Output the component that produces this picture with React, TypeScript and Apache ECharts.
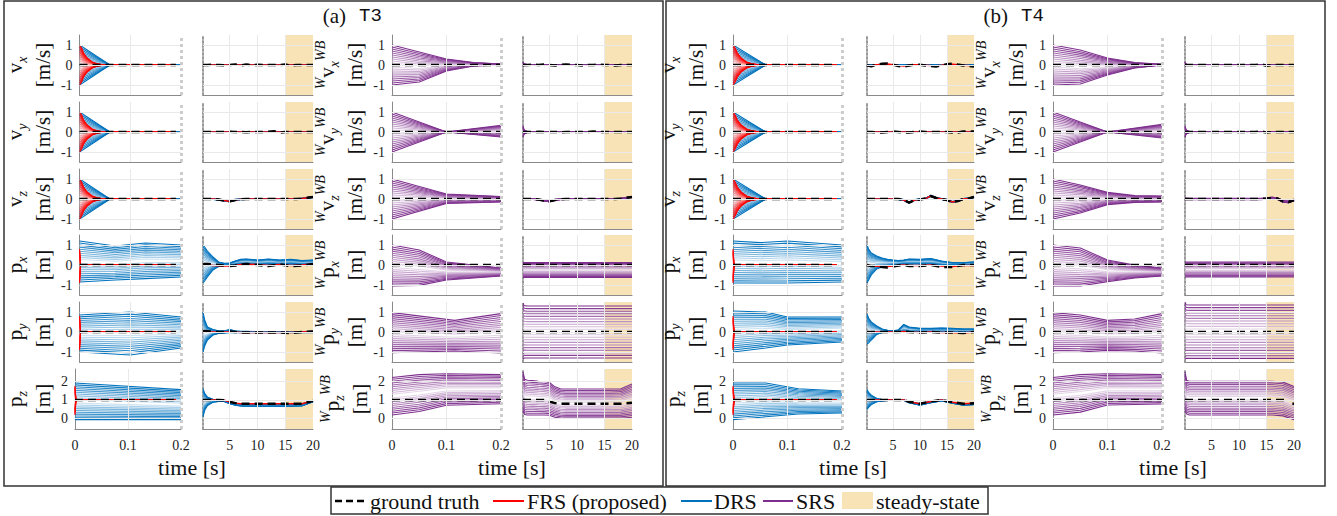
import React, { useEffect, useRef } from "react";
import * as echarts from "echarts";

const W = 1337;
const H = 516;
const SERIF = "Liberation Serif, DejaVu Serif, serif";
const MONO = "Liberation Mono, DejaVu Sans Mono, monospace";
const BLUE = "#0072BD";
const RED = "#FF0000";
const PURPLE = "#7E2F8E";
const SHADE = "#F8E3B6";
const N_LINES = 21;

// ---------- time bases ----------
const TV = [0.2, 1, 2, 3, 4, 5, 6, 7, 8, 9, 10, 11, 12, 13, 14, 15, 16, 17, 18, 19, 20];
const TP = [0.2, 0.5, 1, 2, 3, 4, 5, 6, 7, 8, 10, 12, 14, 16, 18, 20];
const T_FULL = [0.2, 20];
const GT_EARLY_T = [0, 0.19];
const GT_S_T = [0, 0.2];
const GT_ZERO = [0, 0];
const GT_ONE = [1, 1];
const ZERO2 = [0, 0];

// ---------- first 0.2 s, DRS / FRS velocities (both tests) ----------
const DRS_V_T = [0, 0.06, 0.2];
const DRS_V_UP = [1, 0, 0];
const DRS_V_LO = [-1, 0, 0];
const FRS_V_T = [0, 0.004, 0.008, 0.015, 0.025, 0.035, 0.05, 0.19];
const FRS_V_UP = [1, 0.85, 0.6, 0.35, 0.15, 0.06, 0, 0];
const FRS_V_LO = [-1, -0.85, -0.6, -0.35, -0.15, -0.06, 0, 0];
const FRS_P_T = [0, 0.002, 0.19];
const FRS_PXY_UP = [0.8, 0, 0];
const FRS_PXY_LO = [-0.9, 0, 0];
const FRS_PZ_UP = [1.75, 1, 1];
const FRS_PZ_LO = [0.2, 1, 1];

// ---------- T3, first 0.2 s, DRS positions ----------
const T3_PX_DRS_T = [0, 0.07, 0.13, 0.2];
const T3_PX_DRS_UP = [1.2, 0.95, 1.1, 1.0];
const T3_PX_DRS_LO = [-0.85, -0.75, -0.68, -0.6];
const T3_PY_DRS_T = [0, 0.1, 0.2];
const T3_PY_DRS_UP = [0.85, 1.0, 0.75];
const T3_PY_DRS_LO = [-1.0, -1.15, -0.8];
const T3_PZ_DRS_T = [0, 0.2];
const T3_PZ_DRS_UP = [1.9, 1.55];
const T3_PZ_DRS_LO = [-0.05, -0.05];

// ---------- T4, first 0.2 s, DRS positions ----------
const T4_PX_DRS_T = [0, 0.05, 0.1, 0.2];
const T4_PX_DRS_UP = [1.2, 1.12, 1.2, 1.0];
const T4_PX_DRS_LO = [-0.9, -0.9, -0.9, -0.85];
const T4_PY_DRS_T = [0, 0.06, 0.1, 0.2];
const T4_PY_DRS_UP = [1.05, 1.0, 0.75, 0.75];
const T4_PY_DRS_LO = [-1.0, -0.8, -0.65, -0.5];
const T4_PZ_DRS_T = [0, 0.06, 0.12, 0.2];
const T4_PZ_DRS_UP = [1.9, 1.9, 1.6, 1.48];
const T4_PZ_DRS_LO = [-0.05, 0.1, 0.25, 0.3];

// ---------- T3, 0.2-20 s, DRS / FRS ----------
const DRS_SMALL_UP = [0.02, 0.02];
const DRS_SMALL_LO = [-0.02, -0.02];
const GT3_VX = [0, 0, 0.01, 0, -0.01, 0, 0.02, -0.02, 0.02, -0.02, 0.01, 0, 0, 0, 0, 0.03, -0.03, 0, 0, 0, 0];
const GT3_VY = [0, 0, 0, 0, 0, 0.01, 0, 0, -0.01, 0, 0, 0, 0.01, 0.04, -0.03, 0, 0, 0, 0, 0, 0];
const GT3_VZ = [0, 0, 0, -0.03, -0.08, -0.12, -0.05, -0.01, 0, 0, 0, 0, 0, 0, 0, 0, 0, 0, 0.02, 0.06, 0.1];
const T3_VZ_BAND_UP = [0.02, 0.02, 0.02, -0.01, -0.06, -0.1, -0.03, 0.01, 0.02, 0.02, 0.02, 0.02, 0.02, 0.02, 0.02, 0.02, 0.02, 0.02, 0.04, 0.08, 0.12];
const T3_VZ_BAND_LO = [-0.02, -0.02, -0.02, -0.05, -0.1, -0.14, -0.07, -0.03, -0.02, -0.02, -0.02, -0.02, -0.02, -0.02, -0.02, -0.02, -0.02, -0.02, 0, 0.04, 0.08];
const T3_PX_GT = [0.02, 0.05, 0.05, 0.03, 0, -0.03, -0.05, -0.03, 0.02, 0.05, 0, -0.05, 0.03, -0.05, -0.03, 0.05];
const T3_PX_RED = [0, 0, 0, -0.02, -0.04, -0.05, -0.05, -0.02, 0.02, 0.04, 0.02, -0.02, 0.02, -0.02, 0, 0.05];
const T3_PX_BLUE_UP = [1.0, 0.9, 0.7, 0.4, 0.15, 0.08, 0.1, 0.2, 0.28, 0.3, 0.25, 0.3, 0.25, 0.28, 0.22, 0.25];
const T3_PX_BLUE_LO = [-0.9, -0.8, -0.6, -0.25, -0.08, -0.02, 0, 0.02, 0.05, 0.05, 0.02, 0.05, 0.03, 0.05, 0.02, 0.05];
const T3_PY_GT = [0.03, 0.05, 0.04, 0.02, 0, 0, 0.02, 0, -0.02, -0.03, -0.03, -0.03, -0.02, -0.05, 0, 0.02];
const T3_PY_RED = [0, 0, 0, 0, 0, 0, 0, 0, -0.02, -0.02, -0.02, -0.02, -0.02, -0.02, 0, 0.02];
const T3_PY_BLUE_UP = [1.0, 0.6, 0.25, 0.12, 0.06, 0.05, 0.12, 0.05, 0.03, 0.03, 0.02, 0.02, 0.02, 0.02, 0.02, 0.03];
const T3_PY_BLUE_LO = [-1.0, -0.7, -0.4, -0.15, -0.07, -0.05, -0.03, -0.03, -0.03, -0.03, -0.03, -0.03, -0.03, -0.03, -0.03, -0.03];
const T3_PZ_GT = [1, 1, 1, 1, 1, 0.98, 0.9, 0.83, 0.8, 0.8, 0.8, 0.8, 0.8, 0.8, 0.8, 0.95];
const T3_PZ_BLUE_UP = [1.6, 1.35, 1.15, 1.03, 1.0, 0.98, 0.9, 0.82, 0.78, 0.78, 0.78, 0.78, 0.78, 0.78, 0.8, 0.95];
const T3_PZ_BLUE_LO = [0.1, 0.45, 0.7, 0.88, 0.92, 0.92, 0.8, 0.72, 0.68, 0.66, 0.66, 0.66, 0.66, 0.66, 0.68, 0.9];

// ---------- T4, 0.2-20 s, DRS / FRS ----------
const GT4_VX = [-0.03, -0.06, 0.02, 0.06, 0.08, 0.02, -0.05, -0.08, -0.03, 0.02, 0.01, -0.02, -0.05, -0.07, -0.02, 0.04, 0.07, 0.02, -0.02, -0.05, -0.07];
const RED4_VX = [-0.02, -0.04, 0.01, 0.04, 0.05, 0.01, -0.03, -0.05, -0.02, 0.01, 0.01, -0.01, -0.03, -0.04, -0.01, 0.03, 0.04, 0.01, -0.01, -0.03, -0.04];
const GT4_VY = [0, 0, -0.02, -0.03, 0, 0.03, 0, -0.03, -0.02, 0, 0.02, 0, 0, 0, 0, 0, -0.03, -0.03, 0.02, 0.03, 0.03];
const GT4_VZ = [0, 0, 0, 0, 0, 0, 0, -0.05, -0.18, -0.05, -0.02, 0.02, 0.15, 0.05, 0, -0.05, -0.15, -0.1, 0, 0.03, 0.1];
const T4_VZ_BAND_UP = [0.02, 0.02, 0.02, 0.02, 0.02, 0.02, 0.02, -0.03, -0.16, -0.03, 0, 0.04, 0.17, 0.07, 0.02, -0.03, -0.13, -0.08, 0.02, 0.05, 0.12];
const T4_VZ_BAND_LO = [-0.02, -0.02, -0.02, -0.02, -0.02, -0.02, -0.02, -0.07, -0.2, -0.07, -0.04, 0, 0.13, 0.03, -0.02, -0.07, -0.17, -0.12, -0.02, 0.01, 0.08];
const T4_PX_GT = [0, -0.03, -0.05, -0.05, -0.1, -0.12, -0.08, -0.03, 0, -0.05, -0.05, 0, -0.1, -0.1, 0, 0];
const T4_PX_RED = [0, -0.02, -0.04, -0.06, -0.07, -0.07, -0.05, -0.02, 0, -0.02, -0.03, 0, -0.05, -0.08, -0.02, -0.02];
const T4_PX_BLUE_UP = [1.0, 0.8, 0.6, 0.45, 0.35, 0.28, 0.25, 0.22, 0.25, 0.3, 0.28, 0.32, 0.2, 0.12, 0.12, 0.15];
const T4_PX_BLUE_LO = [-0.9, -0.75, -0.5, -0.2, -0.1, -0.05, 0, 0.02, 0.05, 0.05, 0.05, 0.05, 0, 0, 0, 0];
const T4_PY_GT = [0, 0, 0, 0, 0, 0, 0, 0, 0.02, 0, -0.02, 0, -0.03, -0.02, -0.05, 0];
const T4_PY_BLUE_UP = [0.9, 0.7, 0.5, 0.3, 0.15, 0.08, 0.06, 0.1, 0.38, 0.25, 0.18, 0.18, 0.2, 0.18, 0.15, 0.15];
const T4_PY_BLUE_LO = [-0.6, -0.55, -0.4, -0.12, -0.03, 0, 0, 0, 0.02, 0.02, 0.02, 0, 0, 0, -0.02, 0];
const T4_PZ_GT = [1, 1, 1, 1, 1, 1, 1, 1, 1, 0.9, 0.8, 0.92, 1.0, 0.88, 0.8, 0.82];
const T4_PZ_BLUE_UP = [1.55, 1.4, 1.25, 1.08, 1.02, 1.0, 1.0, 1.0, 1.0, 0.9, 0.8, 0.92, 1.0, 0.88, 0.8, 0.82];
const T4_PZ_BLUE_LO = [0.5, 0.6, 0.75, 0.9, 0.95, 0.97, 0.98, 0.98, 0.98, 0.85, 0.72, 0.85, 0.95, 0.82, 0.72, 0.75];

// ---------- SRS, first 0.2 s ----------
const S_T5 = [0, 0.05, 0.1, 0.15, 0.2];
const S_T3 = [0, 0.1, 0.2];
const S_PZ_T = [0, 0.05, 0.1, 0.2];
const T3_SVX_UP = [1.0, 0.65, 0.3, 0.12, 0.05];
const T3_SVX_LO = [-1.0, -0.85, -0.3, -0.05, 0];
const T3_SVY_UP = [1.0, 0, -0.25];
const T3_SVY_LO = [-1.0, 0, 0.33];
const T3_SVZ_UP = [1.0, 0.25, 0.12];
const T3_SVZ_LO = [-1.0, -0.22, -0.15];
const T3_SPX_UP = [1.0, 0.75, 0.15, 0.0, -0.15];
const T3_SPX_LO = [-1.05, -1.02, -0.75, -0.65, -0.55];
const T3_SPY_T = [0, 0.115, 0.2];
const T3_SPY_UP = [0.97, 0.58, 0.92];
const T3_SPY_LO = [-1.03, -0.95, -1.05];
const T3_SPZ_UP = [2.2, 2.35, 2.4, 2.35];
const T3_SPZ_LO = [0.2, 0.38, 0.72, 0.8];
const T4_SVX_UP = [1.0, 0.75, 0.35, 0.12, 0.03];
const T4_SVX_LO = [-1.0, -0.95, -0.5, -0.15, 0];
const T4_SVY_UP = [1.0, 0, -0.3];
const T4_SVY_LO = [-1.0, 0, 0.38];
const T4_SVZ_UP = [1.0, 0.7, 0.33, 0.17, 0.15];
const T4_SVZ_LO = [-1.0, -0.7, -0.28, -0.17, -0.15];
const T4_SPX_UP = [1.0, 0.85, 0.25, 0.0, -0.15];
const T4_SPX_LO = [-1.05, -1.05, -0.83, -0.65, -0.55];
const T4_SPY_UP = [0.97, 0.85, 0.58, 0.65, 0.92];
const T4_SPY_LO = [-1.03, -1.0, -0.92, -0.95, -1.05];
const T4_SPZ_UP = [2.2, 2.35, 2.4, 2.35];
const T4_SPZ_LO = [0.2, 0.35, 0.73, 0.78];

// ---------- SRS, 0.2-20 s ----------
const SRS_V_T = [0.2, 0.4, 1, 20];
const SRS_PY_T = [0.2, 0.4, 1, 20];
const T3_WVX_GT = [0, 0, 0.02, 0, 0.02, 0, -0.02, 0, 0.03, 0, 0, -0.02, 0, 0, 0.02, 0, 0, -0.03, 0, 0, 0];
const T3_WVX_UP = [0.15, 0.05, 0.02, 0.02];
const T3_WVX_LO = [-0.05, -0.03, -0.02, -0.02];
const T3_WVY_GT = [0, 0, 0, 0.01, 0, 0, 0, -0.01, 0, 0, 0, 0, 0, 0.02, 0, 0, 0, 0, 0, 0, 0];
const T3_WVY_UP = [0.3, 0.1, 0.02, 0.02];
const T3_WVY_LO = [-0.25, -0.1, -0.02, -0.02];
const T3_WPX_UP = [0.12, 0.12];
const T3_WPX_LO = [-0.62, -0.62];
const T3_WPY_UP = [1.45, 1.32, 1.3, 1.3];
const T3_WPY_LO = [-1.35, -1.3, -1.3, -1.3];
const T3_WPZ_GT = [1, 1, 1, 1, 1, 1, 0.92, 0.83, 0.8, 0.8, 0.8, 0.8, 0.8, 0.8, 0.8, 0.85];
const T3_WPZ_UP = [2.5, 2.1, 2.05, 2.03, 2.0, 1.98, 1.93, 1.7, 1.6, 1.58, 1.58, 1.58, 1.58, 1.58, 1.6, 1.85];
const T3_WPZ_LO = [0.4, 0.22, 0.2, 0.2, 0.2, 0.2, 0.18, 0.08, 0.03, 0.02, 0.02, 0.02, 0.02, 0.02, 0.02, 0.08];
const T4_WVX_GT = [0, 0, 0, 0, 0, 0, 0, 0, 0, 0, 0, 0, 0, 0, 0.04, -0.04, 0, 0, 0, 0, 0];
const T4_WVX_UP = [0.15, 0.04, 0.02, 0.02];
const T4_WVX_LO = [-0.05, -0.02, -0.02, -0.02];
const T4_WVY_GT = [0, 0, 0, 0, 0, 0, 0, 0, 0, 0, 0, 0, 0, 0, 0.03, -0.03, 0, 0, 0, 0, 0];
const T4_WVY_UP = [0.3, 0.1, 0.02, 0.02];
const T4_WVY_LO = [-0.25, -0.1, -0.02, -0.02];
const T4_WVZ_GT = [0, 0, 0, 0, 0, 0, 0, 0, 0, 0, 0, 0, 0, 0, 0, 0.02, 0.05, 0.02, -0.12, -0.15, -0.05];
const T4_WVZ_UP = [0.04, 0.03, 0.03, 0.03, 0.03, 0.03, 0.03, 0.03, 0.03, 0.03, 0.03, 0.03, 0.03, 0.03, 0.03, 0.05, 0.09, 0.06, -0.08, -0.11, -0.01];
const T4_WVZ_LO = [-0.03, -0.03, -0.03, -0.03, -0.03, -0.03, -0.03, -0.03, -0.03, -0.03, -0.03, -0.03, -0.03, -0.03, -0.03, -0.01, 0.01, -0.02, -0.16, -0.19, -0.09];
const T4_WPX_UP = [0.15, 0.15];
const T4_WPX_LO = [-0.6, -0.6];
const T4_WPY_UP = [1.5, 1.36, 1.35, 1.35];
const T4_WPY_LO = [-1.35, -1.32, -1.32, -1.32];
const T4_WPZ_GT_T = [0.2, 18.5, 19, 19.7, 20];
const T4_WPZ_GT = [1, 1, null, 0.8, 0.8];
const T4_WPZ_UP = [2.5, 2.05, 2.0, 2.0, 2.0, 2.0, 2.0, 2.0, 2.0, 2.0, 2.0, 2.0, 2.0, 2.0, 1.95, 1.72];
const T4_WPZ_LO = [0.4, 0.25, 0.2, 0.2, 0.2, 0.2, 0.2, 0.2, 0.2, 0.2, 0.2, 0.2, 0.2, 0.2, 0.15, -0.05];

// ---------- labels ----------
const ROW_SYM = ["v", "v", "v", "p", "p", "p"];
const ROW_SUB = ["x", "y", "z", "x", "y", "z"];
const ROW_UNIT = ["[m/s]", "[m/s]", "[m/s]", "[m]", "[m]", "[m]"];
const EARLY_TICKS = [0, 0.1, 0.2];
const LATE_TICKS = [5, 10, 15, 20];
const VEL_TICKS = [-1, 0, 1];
const PZ_TICKS = [0, 1, 2];

// ---------- layout ----------
const ROW_TOP = [35, 102, 169, 235, 302, 369];
const ROW_H = 60;
const COL_X = [
  [72, 181], [203, 313], [392, 501], [523, 632],
  [733, 842], [867, 974], [1053, 1162], [1185, 1294],
];

type Fan = { t: number[]; up: number[]; lo: number[] };
type Curve = { t: number[]; v: (number | null)[] };
type Sub = { blue?: Fan; red?: Fan; redLine?: Curve; purple?: Fan; gt: Curve };
const fan = (t: number[], up: number[], lo: number[]): Fan => ({ t, up, lo });
const curve = (t: number[], v: (number | null)[]): Curve => ({ t, v });

const velEarly = (): Sub => ({
  blue: fan(DRS_V_T, DRS_V_UP, DRS_V_LO),
  red: fan(FRS_V_T, FRS_V_UP, FRS_V_LO),
  gt: curve(GT_EARLY_T, GT_ZERO),
});

const PANEL_A: Sub[][] = [
  [
    velEarly(), velEarly(), velEarly(),
    { blue: fan(T3_PX_DRS_T, T3_PX_DRS_UP, T3_PX_DRS_LO), red: fan(FRS_P_T, FRS_PXY_UP, FRS_PXY_LO), gt: curve(GT_EARLY_T, GT_ZERO) },
    { blue: fan(T3_PY_DRS_T, T3_PY_DRS_UP, T3_PY_DRS_LO), red: fan(FRS_P_T, FRS_PXY_UP, FRS_PXY_LO), gt: curve(GT_EARLY_T, GT_ZERO) },
    { blue: fan(T3_PZ_DRS_T, T3_PZ_DRS_UP, T3_PZ_DRS_LO), red: fan(FRS_P_T, FRS_PZ_UP, FRS_PZ_LO), gt: curve(GT_EARLY_T, GT_ONE) },
  ],
  [
    { blue: fan(T_FULL, DRS_SMALL_UP, DRS_SMALL_LO), redLine: curve(T_FULL, ZERO2), gt: curve(TV, GT3_VX) },
    { blue: fan(T_FULL, DRS_SMALL_UP, DRS_SMALL_LO), redLine: curve(T_FULL, ZERO2), gt: curve(TV, GT3_VY) },
    { blue: fan(TV, T3_VZ_BAND_UP, T3_VZ_BAND_LO), redLine: curve(TV, GT3_VZ), gt: curve(TV, GT3_VZ) },
    { blue: fan(TP, T3_PX_BLUE_UP, T3_PX_BLUE_LO), redLine: curve(TP, T3_PX_RED), gt: curve(TP, T3_PX_GT) },
    { blue: fan(TP, T3_PY_BLUE_UP, T3_PY_BLUE_LO), redLine: curve(TP, T3_PY_RED), gt: curve(TP, T3_PY_GT) },
    { blue: fan(TP, T3_PZ_BLUE_UP, T3_PZ_BLUE_LO), redLine: curve(TP, T3_PZ_GT), gt: curve(TP, T3_PZ_GT) },
  ],
  [
    { purple: fan(S_T5, T3_SVX_UP, T3_SVX_LO), gt: curve(GT_S_T, GT_ZERO) },
    { purple: fan(S_T3, T3_SVY_UP, T3_SVY_LO), gt: curve(GT_S_T, GT_ZERO) },
    { purple: fan(S_T3, T3_SVZ_UP, T3_SVZ_LO), gt: curve(GT_S_T, GT_ZERO) },
    { purple: fan(S_T5, T3_SPX_UP, T3_SPX_LO), gt: curve(GT_S_T, GT_ZERO) },
    { purple: fan(T3_SPY_T, T3_SPY_UP, T3_SPY_LO), gt: curve(GT_S_T, GT_ZERO) },
    { purple: fan(S_PZ_T, T3_SPZ_UP, T3_SPZ_LO), gt: curve(GT_S_T, GT_ONE) },
  ],
  [
    { purple: fan(SRS_V_T, T3_WVX_UP, T3_WVX_LO), gt: curve(TV, T3_WVX_GT) },
    { purple: fan(SRS_V_T, T3_WVY_UP, T3_WVY_LO), gt: curve(TV, T3_WVY_GT) },
    { purple: fan(TV, T3_VZ_BAND_UP, T3_VZ_BAND_LO), gt: curve(TV, GT3_VZ) },
    { purple: fan(T_FULL, T3_WPX_UP, T3_WPX_LO), gt: curve(T_FULL, ZERO2) },
    { purple: fan(SRS_PY_T, T3_WPY_UP, T3_WPY_LO), gt: curve(T_FULL, ZERO2) },
    { purple: fan(TP, T3_WPZ_UP, T3_WPZ_LO), gt: curve(TP, T3_WPZ_GT) },
  ],
];

const PANEL_B: Sub[][] = [
  [
    velEarly(), velEarly(), velEarly(),
    { blue: fan(T4_PX_DRS_T, T4_PX_DRS_UP, T4_PX_DRS_LO), red: fan(FRS_P_T, FRS_PXY_UP, FRS_PXY_LO), gt: curve(GT_EARLY_T, GT_ZERO) },
    { blue: fan(T4_PY_DRS_T, T4_PY_DRS_UP, T4_PY_DRS_LO), red: fan(FRS_P_T, FRS_PXY_UP, FRS_PXY_LO), gt: curve(GT_EARLY_T, GT_ZERO) },
    { blue: fan(T4_PZ_DRS_T, T4_PZ_DRS_UP, T4_PZ_DRS_LO), red: fan(FRS_P_T, FRS_PZ_UP, FRS_PZ_LO), gt: curve(GT_EARLY_T, GT_ONE) },
  ],
  [
    { blue: fan(T_FULL, DRS_SMALL_UP, DRS_SMALL_LO), redLine: curve(TV, RED4_VX), gt: curve(TV, GT4_VX) },
    { blue: fan(T_FULL, DRS_SMALL_UP, DRS_SMALL_LO), redLine: curve(T_FULL, ZERO2), gt: curve(TV, GT4_VY) },
    { blue: fan(TV, T4_VZ_BAND_UP, T4_VZ_BAND_LO), redLine: curve(TV, GT4_VZ), gt: curve(TV, GT4_VZ) },
    { blue: fan(TP, T4_PX_BLUE_UP, T4_PX_BLUE_LO), redLine: curve(TP, T4_PX_RED), gt: curve(TP, T4_PX_GT) },
    { blue: fan(TP, T4_PY_BLUE_UP, T4_PY_BLUE_LO), redLine: curve(TP, T4_PY_GT), gt: curve(TP, T4_PY_GT) },
    { blue: fan(TP, T4_PZ_BLUE_UP, T4_PZ_BLUE_LO), redLine: curve(TP, T4_PZ_GT), gt: curve(TP, T4_PZ_GT) },
  ],
  [
    { purple: fan(S_T5, T4_SVX_UP, T4_SVX_LO), gt: curve(GT_S_T, GT_ZERO) },
    { purple: fan(S_T3, T4_SVY_UP, T4_SVY_LO), gt: curve(GT_S_T, GT_ZERO) },
    { purple: fan(S_T5, T4_SVZ_UP, T4_SVZ_LO), gt: curve(GT_S_T, GT_ZERO) },
    { purple: fan(S_T5, T4_SPX_UP, T4_SPX_LO), gt: curve(GT_S_T, GT_ZERO) },
    { purple: fan(S_T5, T4_SPY_UP, T4_SPY_LO), gt: curve(GT_S_T, GT_ZERO) },
    { purple: fan(S_PZ_T, T4_SPZ_UP, T4_SPZ_LO), gt: curve(GT_S_T, GT_ONE) },
  ],
  [
    { purple: fan(SRS_V_T, T4_WVX_UP, T4_WVX_LO), gt: curve(TV, T4_WVX_GT) },
    { purple: fan(SRS_V_T, T4_WVY_UP, T4_WVY_LO), gt: curve(TV, T4_WVY_GT) },
    { purple: fan(TV, T4_WVZ_UP, T4_WVZ_LO), gt: curve(TV, T4_WVZ_GT) },
    { purple: fan(T_FULL, T4_WPX_UP, T4_WPX_LO), gt: curve(T_FULL, ZERO2) },
    { purple: fan(SRS_PY_T, T4_WPY_UP, T4_WPY_LO), gt: curve(T_FULL, ZERO2) },
    { purple: fan(TP, T4_WPZ_UP, T4_WPZ_LO), gt: curve(T4_WPZ_GT_T, T4_WPZ_GT) },
  ],
];

function tint(hex: string, f: number): string {
  const g = Math.pow(Math.max(0, Math.min(1, f)), 0.7);
  const c = [1, 3, 5].map((i) => parseInt(hex.slice(i, i + 2), 16));
  const m = c.map((v) => Math.round(255 + (v - 255) * g));
  return `rgb(${m[0]},${m[1]},${m[2]})`;
}

function buildOption() {
  const grid: any[] = [];
  const xAxis: any[] = [];
  const yAxis: any[] = [];
  const series: any[] = [];

  const addFan = (g: number, f: Fan, base: string, z: number) => {
    const items: { frac: number; inten: number }[] = [];
    for (let k = 0; k < N_LINES; k++) {
      const frac = k / (N_LINES - 1);
      items.push({ frac, inten: Math.abs(2 * frac - 1) });
    }
    items.sort((a, b) => a.inten - b.inten);
    for (const it of items) {
      if (it.inten < 0.05) continue;
      series.push({
        type: "line", xAxisIndex: g, yAxisIndex: g, showSymbol: false, symbol: "none", silent: true, z,
        lineStyle: { color: tint(base, it.inten), width: 1.1 },
        data: f.t.map((tt, i) => [tt, f.lo[i] + it.frac * (f.up[i] - f.lo[i])]),
      });
    }
  };
  const addCurve = (g: number, c: Curve, color: string, width: number, dashed: boolean, z: number) => {
    series.push({
      type: "line", xAxisIndex: g, yAxisIndex: g, showSymbol: false, symbol: "none", silent: true, z,
      connectNulls: false,
      lineStyle: { color, width, type: dashed ? [8, 5] : "solid" },
      data: c.t.map((tt, i) => [tt, c.v[i]]),
    });
  };

  [PANEL_A, PANEL_B].forEach((panel, p) => {
    panel.forEach((col, c) => {
      col.forEach((sub, r) => {
        const g = grid.length;
        const [x0, x1] = COL_X[p * 4 + c];
        const early = c === 0 || c === 2;
        const isPz = r === 5;
        const yTicks = isPz ? PZ_TICKS : VEL_TICKS;
        const xTicks = early ? EARLY_TICKS : LATE_TICKS;
        grid.push({ left: x0, top: ROW_TOP[r], width: x1 - x0, height: ROW_H });
        xAxis.push({
          type: "value", gridIndex: g, min: early ? 0 : 0.2, max: early ? 0.2 : 20,
          axisLine: { show: true, onZero: false, lineStyle: { color: "#8a8a8a", width: 1 } },
          axisTick: { show: false }, splitLine: { show: false },
          axisLabel: {
            show: r === 5, customValues: xTicks, fontFamily: SERIF, fontSize: 14, color: "#222", margin: 9,
            formatter: (v: number) => String(Math.round(v * 10) / 10),
          },
        });
        const name = early
          ? (c === 0
            ? `{v|${ROW_SYM[r]}}{s|${ROW_SUB[r]}}\n{v|${ROW_UNIT[r]}}`
            : `{p|W}{v|${ROW_SYM[r]}}{s|${ROW_SUB[r]}}{p|WB}\n{v|${ROW_UNIT[r]}}`)
          : "";
        yAxis.push({
          type: "value", gridIndex: g, min: isPz ? -0.55 : -1.5, max: isPz ? 2.65 : 1.5,
          axisLine: {
            show: true, onZero: false,
            lineStyle: early ? { color: "#8a8a8a", width: 1 } : { color: "#9a9a9a", width: 2, type: "dotted" },
          },
          axisTick: { show: false }, splitLine: { show: false },
          axisLabel: {
            show: early, customValues: yTicks, fontFamily: SERIF, fontSize: 14, color: "#222", margin: 7,
            formatter: (v: number) => String(v),
          },
          name, nameLocation: "middle", nameRotate: 90, nameGap: 15,
          nameTextStyle: {
            fontFamily: SERIF, fontSize: 21, color: "#111", lineHeight: 28,
            rich: {
              v: { fontFamily: SERIF, fontSize: 21, color: "#111", lineHeight: 28 },
              s: { fontFamily: SERIF, fontStyle: "italic", fontSize: 14, color: "#111", lineHeight: 14, verticalAlign: "bottom" },
              p: { fontFamily: SERIF, fontStyle: "italic", fontSize: 14, color: "#111", lineHeight: 14, verticalAlign: "top" },
            },
          },
        });
        const ml: any[] = [
          ...yTicks.map((y) => ({ yAxis: y })),
          ...(early ? [0.1] : [5, 10, 15]).map((x) => ({ xAxis: x })),
        ];
        if (early) ml.push({ xAxis: 0.2, lineStyle: { type: "dotted", color: "#cdcdcd", width: 3 } });
        series.push({
          type: "line", xAxisIndex: g, yAxisIndex: g, silent: true, z: 1, showSymbol: false,
          lineStyle: { opacity: 0 }, data: [[early ? 0 : 0.2, yTicks[0]]],
          markLine: {
            silent: true, symbol: ["none", "none"], label: { show: false }, animation: false,
            lineStyle: { color: "#e9e9e9", width: 1, type: "solid" }, data: ml,
          },
          markArea: early ? undefined : {
            silent: true, animation: false, itemStyle: { color: SHADE, opacity: 1 },
            data: [[{ xAxis: 15 }, { xAxis: 20 }]],
          },
        });
        if (sub.blue) addFan(g, sub.blue, BLUE, 2);
        if (sub.purple) addFan(g, sub.purple, PURPLE, 2);
        if (sub.red) addFan(g, sub.red, RED, 3);
        if (sub.redLine) addCurve(g, sub.redLine, RED, 1.5, false, 3);
        addCurve(g, sub.gt, "#000", 2.5, true, 4);
      });
    });
  });

  const txt = (x: number, y: number, text: string, size: number, family: string, align: string) => ({
    type: "text", x, y, silent: true,
    style: {
      text, fontSize: size, fontFamily: family, fill: "#111",
      textAlign: align, textVerticalAlign: "middle", align, verticalAlign: "middle",
    },
  });
  const seg = (x1: number, x2: number, y: number, color: string, dash?: number[]) => ({
    type: "line", silent: true, shape: { x1, y1: y, x2, y2: y },
    style: { stroke: color, lineWidth: dash ? 2.5 : 2, lineDash: dash },
  });
  const LY = 501;
  const graphic: any[] = [
    { type: "rect", silent: true, shape: { x: 4, y: 1, width: 659, height: 485 }, style: { fill: "none", stroke: "#333", lineWidth: 1.5 } },
    { type: "rect", silent: true, shape: { x: 666, y: 1, width: 659, height: 485 }, style: { fill: "none", stroke: "#333", lineWidth: 1.5 } },
    txt(346, 16, "(a)", 21, SERIF, "right"),
    txt(359, 16, "T3", 19, MONO, "left"),
    txt(1008, 16, "(b)", 21, SERIF, "right"),
    txt(1021, 16, "T4", 19, MONO, "left"),
    txt(192, 467, "time [s]", 22, SERIF, "center"),
    txt(512, 467, "time [s]", 22, SERIF, "center"),
    txt(853, 467, "time [s]", 22, SERIF, "center"),
    txt(1173, 467, "time [s]", 22, SERIF, "center"),
    { type: "rect", silent: true, shape: { x: 331, y: 487, width: 657, height: 27 }, style: { fill: "#fff", stroke: "#333", lineWidth: 1.5 } },
    seg(335, 367, LY, "#000", [7, 4]),
    txt(370, LY, "ground truth", 22, SERIF, "left"),
    seg(493, 524, LY, RED),
    txt(527, LY, "FRS (proposed)", 22, SERIF, "left"),
    seg(681, 712, LY, BLUE),
    txt(714, LY, "DRS", 22, SERIF, "left"),
    seg(763, 793, LY, PURPLE),
    txt(796, LY, "SRS", 22, SERIF, "left"),
    { type: "rect", silent: true, shape: { x: 842, y: 492, width: 31, height: 17 }, style: { fill: SHADE } },
    txt(876, LY, "steady-state", 22, SERIF, "left"),
  ];

  return { animation: false, backgroundColor: "#fff", textStyle: { fontFamily: SERIF }, grid, xAxis, yAxis, series, graphic };
}

export default function App() {
  const ref = useRef<HTMLDivElement>(null);
  useEffect(() => {
    if (!ref.current) return;
    const chart = echarts.init(ref.current, undefined, { renderer: "svg", width: W, height: H });
    chart.setOption(buildOption() as any);
    return () => chart.dispose();
  }, []);
  return <div ref={ref} style={{ position: "absolute", left: 0, top: 0, width: W, height: H, background: "#fff" }} />;
}
